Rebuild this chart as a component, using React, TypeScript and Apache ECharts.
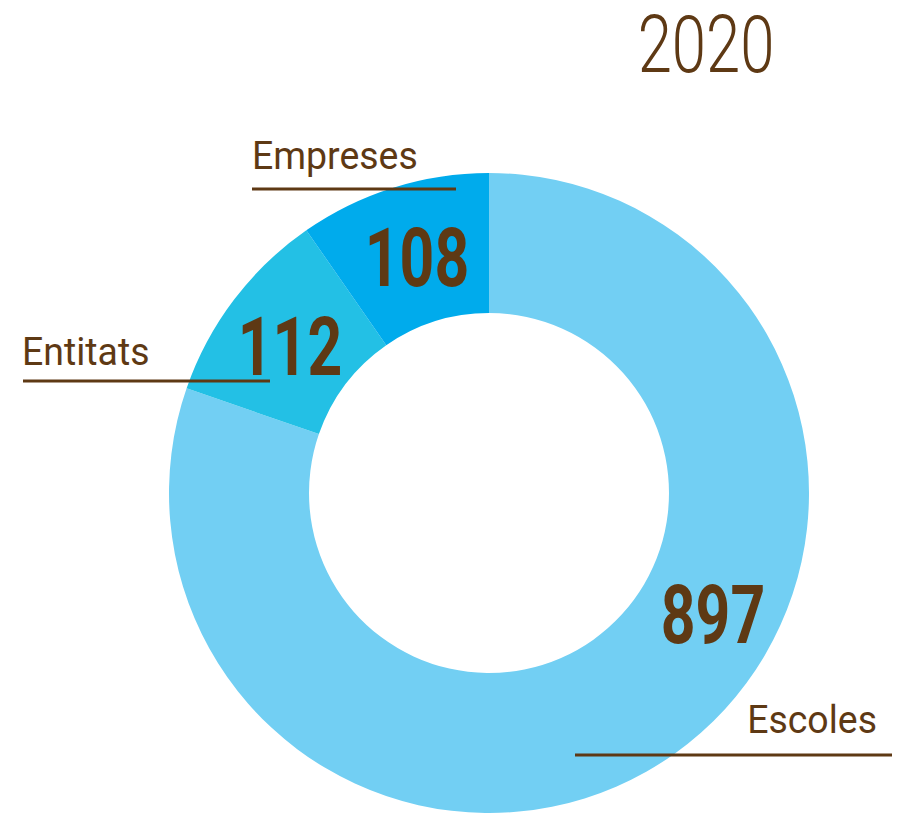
import React, { useEffect, useRef } from "react";
import * as echarts from "echarts";

const categories = ["Escoles", "Entitats", "Empreses"];
const values = [897, 112, 108];
const colors = ["#72CFF3", "#23C0E5", "#00ABEC"];
const title = "2020";

const BROWN = "#5E3914";
const FONT = "Roboto, 'DejaVu Sans Condensed', sans-serif";

export default function App() {
  const ref = useRef<HTMLDivElement>(null);
  useEffect(() => {
    if (!ref.current) return;
    const chart = echarts.init(ref.current, null, { renderer: "svg" });
    const nameLayout = [
      { x: 877, y: 720, align: "right" },
      { x: 22, y: 352, align: "left" },
      { x: 252, y: 156, align: "left" },
    ];
    const lineLayout = [
      { x1: 575, x2: 892, y: 755 },
      { x1: 23, x2: 270, y: 381 },
      { x1: 252, x2: 456, y: 189 },
    ];
    const valueLayout = [
      { x: 713, y: 615 },
      { x: 290, y: 347 },
      { x: 417, y: 258 },
    ];
    const graphics: any[] = [
      {
        type: "text",
        x: 706,
        y: 45,
        z: 10,
        scaleX: 0.78,
        style: {
          text: title,
          fill: BROWN,
          font: `300 79px ${FONT}`,
          align: "center",
          verticalAlign: "middle",
        },
      },
    ];
    categories.forEach((c, i) => {
      graphics.push({
        type: "text",
        x: nameLayout[i].x,
        y: nameLayout[i].y,
        z: 10,
        scaleX: 0.96,
        style: {
          text: c,
          fill: BROWN,
          font: `normal 39px ${FONT}`,
          align: nameLayout[i].align,
          verticalAlign: "middle",
        },
      });
      graphics.push({
        type: "line",
        z: 10,
        shape: { x1: lineLayout[i].x1, y1: lineLayout[i].y, x2: lineLayout[i].x2, y2: lineLayout[i].y },
        style: { stroke: BROWN, lineWidth: 3 },
      });
      graphics.push({
        type: "text",
        x: valueLayout[i].x,
        y: valueLayout[i].y,
        z: 10,
        scaleX: 0.74,
        style: {
          text: String(values[i]),
          fill: BROWN,
          font: `bold 82px ${FONT}`,
          align: "center",
          verticalAlign: "middle",
        },
      });
    });
    chart.setOption({
      animation: false,
      backgroundColor: "#ffffff",
      series: [
        {
          type: "pie",
          center: [489, 493],
          radius: [180, 320],
          startAngle: 90,
          clockwise: true,
          label: { show: false },
          labelLine: { show: false },
          silent: true,
          data: categories.map((c, i) => ({
            name: c,
            value: values[i],
            itemStyle: { color: colors[i], borderWidth: 0 },
          })),
        },
      ],
      graphic: graphics,
    });
    return () => chart.dispose();
  }, []);
  return (
    <div
      ref={ref}
      style={{ position: "fixed", left: 0, top: 0, width: 899, height: 813 }}
    />
  );
}
